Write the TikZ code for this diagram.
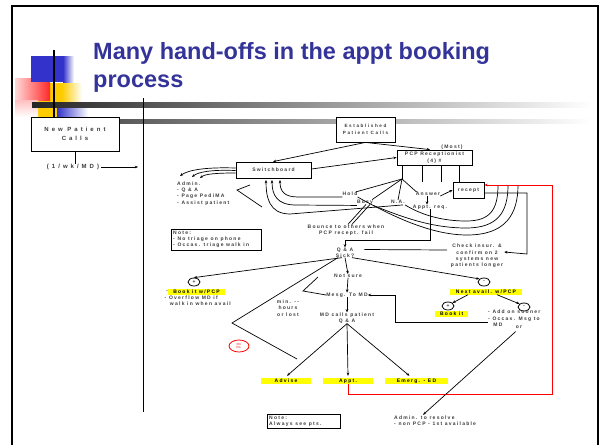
\documentclass[tikz,border=0pt]{standalone}
\usepackage{fontspec}
\setmainfont{Liberation Sans}
\newfontfamily\dfont[LetterSpace=25]{Liberation Sans}
\newfontfamily\wfont[LetterSpace=50]{Liberation Sans}
\usetikzlibrary{arrows.meta,shapes.geometric}
\definecolor{titleblue}{RGB}{51,51,153}
\definecolor{hlyellow}{RGB}{255,255,0}
\definecolor{dgray}{RGB}{60,60,60}
\definecolor{sqblue}{RGB}{51,51,204}
\definecolor{sqyellow}{RGB}{255,204,0}
\definecolor{sqred}{RGB}{255,40,40}
\tikzset{
  dt/.style={font=\dfont\fontsize{5}{6.3}\selectfont\bfseries, text=dgray, inner sep=0pt, align=center},
  dtl/.style={dt, align=left},
  boxed/.style={draw=black, line width=0.8pt, fill=white, inner sep=0pt},
  hl/.style={dt, text=black, fill=hlyellow, minimum height=6pt},
  ln/.style={line width=0.7pt, draw=black},
  arr/.style={ln, -{Stealth[length=3.2pt,width=2.6pt]}},
  redarr/.style={line width=0.8pt, draw=red, -{Stealth[length=3.2pt,width=2.6pt]}},
  circ/.style={ellipse, draw, line width=0.8pt, minimum width=12pt, minimum height=8pt, inner sep=0pt, dt},
}
\begin{document}
\begin{tikzpicture}[x=1pt,y=-1pt]
\useasboundingbox (0,0) rectangle (602,445);
\fill[white] (0,0) rectangle (602,445);

% corner decoration
\fill[sqyellow] (38,83) rectangle (62,117);
\shade[left color=sqyellow, right color=white] (62,83) rectangle (82,117);
\shade[left color=red!15, right color=sqred] (15,78) rectangle (50,100);
\shade[top color=red!25, bottom color=white] (15,100) rectangle (38,117);
\fill[sqblue] (31,56) rectangle (63,82);
\shade[left color=sqblue, right color=white] (63,56) rectangle (74,82);
\shade[left color=sqblue, right color=white] (57,107) rectangle (88,118);
\shade[left color=black!85, right color=white] (32,102) rectangle (592,107);
\draw[line width=2.5pt] (54,50) -- (54,118);
\shade[left color=black!65, right color=white] (119,119.5) rectangle (592,123);

% slide frame
\draw[line width=2.5pt] (12,445) -- (12,6) -- (598,6) -- (598,445);

% title
\node[anchor=base west, inner sep=0pt, font=\fontsize{23.5}{28}\selectfont\bfseries, text=titleblue] (title1) at (93,59) {Many hand-offs in the appt booking};
\node[anchor=base west, inner sep=0pt, font=\fontsize{23.5}{28}\selectfont\bfseries, text=titleblue] (title2) at (93,87) {process};

% divider
\draw[line width=0.9pt] (143,98) -- (143,412);

% new patients
\node[boxed, minimum width=88pt, minimum height=34pt, font=\wfont\fontsize{6}{9}\selectfont\bfseries, text=dgray, align=center] (np) at (75,134) {New Patient\\Calls};
\node[dt, font=\wfont\fontsize{6}{7}\selectfont\bfseries] (nprate) at (73,167) {(1/wk/MD)};
\draw[ln] (np.south) -- (np.south |- nprate.north);
\coordinate (npend) at (138,167);
\draw[arr] ([xshift=2pt]nprate.east) -- (npend);

% established patients
\node[boxed, minimum width=59pt, minimum height=25pt, font=\dfont\fontsize{4.6}{7}\selectfont\bfseries\addfontfeature{LetterSpace=35}, text=dgray, align=center] (est) at (365.5,129.5) {Established\\Patient Calls};
\node[boxed, minimum width=75pt, minimum height=15pt, dt, font=\dfont\fontsize{5}{7}\selectfont\bfseries] (pcp) at (434.5,157.5) {PCP Receptionist\\(4) \#};
\node[dt] (most) at (452,147) {(Most)};
\node[boxed, minimum width=75pt, minimum height=16pt, dt] (sw) at (273.5,170) {Switchboard};
\node[boxed, minimum width=31pt, minimum height=16pt, dt] (rec) at (468.5,190) {recept};

\draw[arr] (est.south) -- ([xshift=-0.5pt]sw.north);
\draw[arr] (est.south) -- ([xshift=-4.5pt]pcp.north);
\draw[arr] ([yshift=1pt]sw.east) -- (pcp.west);

% switchboard tasks
\node[dtl, anchor=north west] (admin) at (177,181.5) {Admin.\\- Q \& A\\- Page PediMA\\- Assist patient};
\coordinate (a1) at (180,176);
\coordinate (a2) at (192,177);
\coordinate (a3) at (200,178);
\draw[arr] ([yshift=2pt]sw.west) .. controls +(-30,-1) and +(8,-6) .. (a1);
\draw[arr] ([yshift=-0.5pt]sw.west) .. controls +(-24,-1) and +(6,-5) .. (a2);
\draw[arr] ([yshift=-3pt]sw.west) .. controls +(-20,0) and +(5,-4) .. (a3);
\coordinate (b1) at (250,185);
\coordinate (b2) at (237,190);
\coordinate (b3) at (262,207);
\draw[ln] (b1) -- (b2) -- (b3);

% receptionist outcomes
\node[dt] (hold) at (350,194) {Hold};
\node[dt] (busy) at (365,202) {Busy};
\node[dt] (na) at (398,202) {N.A.};
\node[dt] (ans) at (428,194) {Answer};
\node[dt] (apr) at (430,207) {Appt. req.};
\coordinate (vx) at (402,179);
\coordinate (t1) at (422,182);
\coordinate (t2) at (441,182);
\coordinate (t3) at (459,182);
\draw[ln] (pcp.south -| vx) -- (vx);
\draw[ln] (pcp.south -| t1) -- (t1);
\draw[ln] (pcp.south -| t2) -- (t2);
\draw[ln] (pcp.south -| t3) -- (t3);
\draw[ln] (vx) -- ([xshift=-2pt]hold.north east);
\draw[ln] (vx) -- ([xshift=-1pt]busy.north east);
\draw[ln] (vx) -- (na.north);
\draw[ln] (vx) -- ([xshift=1pt]ans.north west);
\draw[arr] ([yshift=-2pt]ans.east) -- (rec.west);
\draw[arr] ([xshift=-1pt]ans.south) -- ([xshift=-3pt]apr.north);

% calls bounced back to the switchboard
\node[dt] (bounce) at (346,230) {Bounce to others when\\PCP recept. fail};
\draw[arr] ([yshift=-1pt]hold.south west) -- (298,197) .. controls (284,197) and (280,191) .. (280,180);
\draw[arr] ([yshift=-1pt]busy.south west) -- (296,205) .. controls (277,205) and (272,195) .. (272,180);
\draw[arr] ([xshift=5pt,yshift=-1pt]na.south) -- (290,214) .. controls (269,214) and (266,197) .. (266,180);
\draw[ln] ([xshift=1pt]busy.south) -- ([xshift=2pt]bounce.north);
\draw[ln] ([xshift=5pt]busy.south) -- ([xshift=6pt]bounce.north);
% calls from recept looping back
\draw[ln] ([yshift=-1pt]na.south east) .. controls (420,214) and (440,221) .. (466,221) .. controls (490,221) and (498,210) .. (498,185);
\draw[ln] ([yshift=-1pt]busy.south east) .. controls (400,216) and (430,228) .. (466,228) .. controls (498,228) and (508,212) .. (508,185);
\draw[ln] ([yshift=-1pt]hold.south east) .. controls (390,215) and (430,235) .. (467,235) .. controls (505,235) and (518,215) .. (518,185);

% triage note
\node[boxed, anchor=north west, minimum width=90pt, minimum height=21pt] (note1) at (171,229) {};
\node[dtl, anchor=north west] (note1t) at ([xshift=2pt,yshift=-1.5pt]note1.north west) {Note:\\- No triage on phone\\- Occas. triage walk in};

% first question
\node[dt] (qa) at (345,252.5) {Q \& A\\Sick?};
\draw[arr] (apr.south) -- ++(0,30.5) -| (qa.north);
\node[dt] (check) at (477,256) {Check insur. \&\\confirm on 2\\systems new\\patients longer};
\draw[ln] ([xshift=10pt,yshift=3pt]qa.east) -- ([xshift=-4pt,yshift=6pt]check.west);
\draw[arr] ([yshift=-3pt]rec.east) -| (527,254) -- ([xshift=1pt,yshift=4pt]check.east);

\node[circ] (pl) at (194,282) {+};
\node[circ] (mn) at (484,282) {-};
\draw[arr] ([xshift=-3pt]qa.south) -- (pl.north);
\draw[arr] ([xshift=7pt]qa.south) -- (mn.north west);

\node[dt, anchor=east] (dashL) at (168,292) {-};
\node[hl, minimum width=57pt] (bookL) at (196.5,292) {Book it w/PCP};
\node[dtl, anchor=north west] (ovf) at (164.5,295.5) {- Overflow MD if\\\ \ walk in when avail};

\node[dt] (ns) at (348,276) {Not sure};
\draw[arr] (qa.south) -- (ns.north);
\node[dt] (mesg) at (347,295) {Mesg. To MD};
\draw[arr] (ns.south) -- (mesg.north);
\coordinate (c1) at (318,277);
\coordinate (c2) at (303,291);
\draw[ln] (c1) -- (c2) -- (mesg.west);
\node[dt] (mdc) at (347,318) {MD calls patient\\Q \& A};
\draw[arr] (mesg.south) -- (mdc.north);
\node[dt] (minl) at (288,308) {min. --\\hours\\or lost};

\coordinate (d1) at (232,323);
\coordinate (d2) at (297,359);
\draw[ln] ([xshift=-7pt]qa.south) -- (d1) -- (d2);

\node[draw=red, ellipse, line width=0.8pt, minimum width=20pt, minimum height=12pt, inner sep=0pt, text=red, font=\fontsize{3}{3.5}\selectfont, align=center] (red30) at (239,346) {30+\\hrs.};

% next available path
\node[hl, minimum width=72pt] (next) at (486,291.5) {Next avail. w/PCP};
\node[circ] (pl2) at (448,306) {+};
\node[circ] (mn2) at (524,307) {-};
\draw[arr] ([xshift=-18pt]next.south) -- (pl2.north east);
\draw[arr] ([xshift=11pt]next.south) -- (mn2.north west);
\node[hl, minimum width=33pt, anchor=west, align=left] (bookR) at (435,313.5) {Book it};
\node[dtl, anchor=north west] (addon) at (488,310) {- Add on sooner\\- Occas. Msg to\\\ \ MD};
\node[dt] (orl) at (519,327) {or};
\draw[arr] (addon.south west |- 0,322) -- (395,322) |- (mesg.east);

% outcomes
\node[hl, minimum width=50pt] (adv) at (286,381) {Advise};
\node[hl, minimum width=50pt] (appt) at (348,381) {Appt.};
\node[hl, minimum width=63pt] (emg) at (416.5,381) {Emerg. - ED};
\draw[arr] (mdc.south) -- ([xshift=1pt,yshift=2pt]adv.north);
\draw[arr] (mdc.south) -- ([yshift=2pt]appt.north);
\draw[arr] (mdc.south) -- ([xshift=-7pt,yshift=2pt]emg.north);

\coordinate (redc) at (552,394);
\draw[redarr] (appt.south) |- (redc) |- ([yshift=5pt]rec.east);

\node[boxed, anchor=north west, minimum width=73pt, minimum height=14pt] (note2) at (267,414) {};
\node[dtl, anchor=north west] (note2t) at ([xshift=2pt,yshift=-1.5pt]note2.north west) {Note:\\Always see pts.};
\node[dtl, anchor=west] (admres) at (394,421) {Admin. to resolve\\- non PCP - 1st available};
\draw[arr] ([yshift=-3pt]orl.south west) -- ([xshift=29pt,yshift=1pt]admres.north west);
\end{tikzpicture}
\end{document}
